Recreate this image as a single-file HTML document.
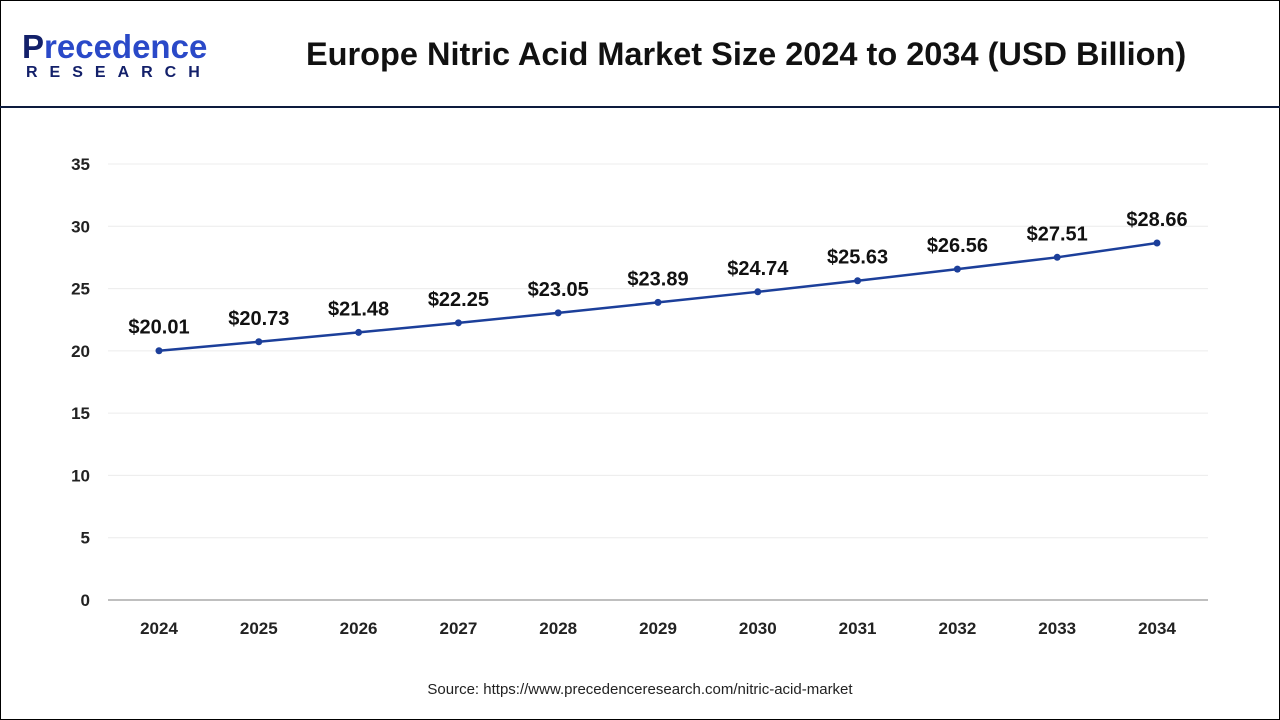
<!DOCTYPE html>
<html><head><meta charset="utf-8">
<style>
body{margin:0;width:1280px;height:720px;overflow:hidden;background:#fff;font-family:"Liberation Sans",Arial,sans-serif;}
#frame{position:absolute;left:0;top:0;width:1278px;height:718px;border:1px solid #000;}
#hdr-line{position:absolute;left:0;top:106px;width:1280px;height:2px;background:#0d1b3e;}
#title{position:absolute;left:306px;top:36px;font-size:32.5px;font-weight:bold;color:#111;}
#logo{position:absolute;left:22px;top:30px;}
#source{position:absolute;left:0;width:1280px;top:681px;text-align:center;font-size:15px;color:#222;}
</style></head><body>
<div id="frame"></div>
<div id="logo">
<div style="font-size:33px;font-weight:bold;color:#2a49c8;line-height:34px;"><span style="color:#13206a">P</span>recedence</div>
<div style="font-size:16px;font-weight:bold;color:#13206a;letter-spacing:12px;margin-left:4px;line-height:18px;">RESEARCH</div>
</div>
<div id="title">Europe Nitric Acid Market Size 2024 to 2034 (USD Billion)</div>
<div id="hdr-line"></div>
<svg id="chart" width="1280" height="720" style="position:absolute;left:0;top:0"></svg>
<div id="source">Source: https://www.precedenceresearch.com/nitric-acid-market</div>
<script>
const years=["2024","2025","2026","2027","2028","2029","2030","2031","2032","2033","2034"];
const values=[20.01,20.73,21.48,22.25,23.05,23.89,24.74,25.63,26.56,27.51,28.66];
const labels=["$20.01","$20.73","$21.48","$22.25","$23.05","$23.89","$24.74","$25.63","$26.56","$27.51","$28.66"];
const yTicks=[0,5,10,15,20,25,30,35];
const svg=document.getElementById('chart');
const NS='http://www.w3.org/2000/svg';
const x=i=>159+i*99.8;
const y=v=>600-v*(436/35);
function mk(t,a,txt){const e=document.createElementNS(NS,t);for(const k in a)e.setAttribute(k,a[k]);if(txt!==undefined)e.textContent=txt;svg.appendChild(e);return e;}
yTicks.forEach(t=>{
 if(t>0){const g=mk('line',{x1:108,x2:1208,y1:y(t),y2:y(t),stroke:'#ececec','stroke-width':1});
 
 }
 const l=mk('text',{x:90,y:y(t)+6,'text-anchor':'end','font-size':17,'font-weight':'bold',fill:'#222'},t);
 
 
});
const ax=mk('line',{x1:108,x2:1208,y1:600,y2:600,stroke:'#aaa','stroke-width':1.5});


years.forEach((yr,i)=>{
 const l=mk('text',{x:x(i),y:634,'text-anchor':'middle','font-size':17,'font-weight':'bold',fill:'#222'},yr);
 
 
});
const line=mk('polyline',{points:values.map((v,i)=>x(i)+','+y(v)).join(' '),fill:'none',stroke:'#1c3f9a','stroke-width':2.5});


values.forEach((v,i)=>{
 const c=mk('circle',{cx:x(i),cy:y(v),r:3.5,fill:'#1c3f9a'});
 
 
 const t=mk('text',{x:x(i),y:y(v)-17,'text-anchor':'middle','font-size':20,'font-weight':'bold',fill:'#111'},labels[i]);
 
 
});
</script>
</body></html>
